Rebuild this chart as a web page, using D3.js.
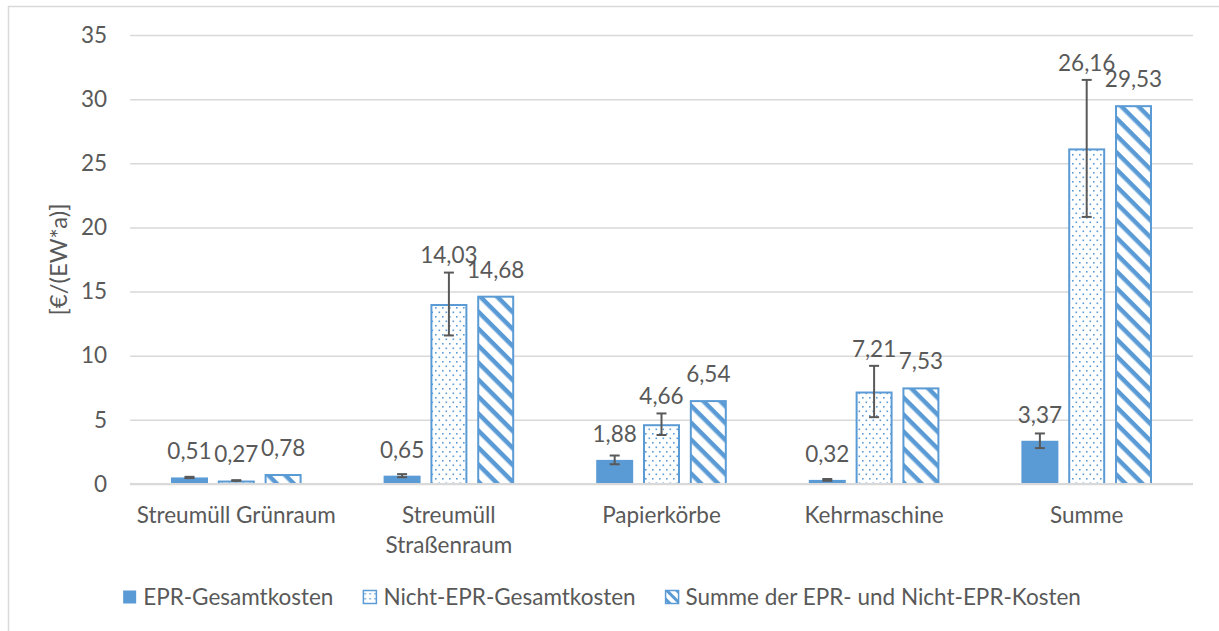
<!DOCTYPE html>
<html>
<head>
<meta charset="utf-8">
<script src="https://cdn.jsdelivr.net/npm/d3@7"></script>
<style>
  html, body { margin: 0; padding: 0; background: #fff; }
  svg { display: block; }
  text { font-family: Lato, "Open Sans", sans-serif; fill: #595959; }
</style>
</head>
<body>
<svg id="chart" width="1219" height="631"></svg>
<script>
// ---- data ----
const categories = [["Streumüll Grünraum"], ["Streumüll", "Straßenraum"], ["Papierkörbe"], ["Kehrmaschine"], ["Summe"]];
const seriesNames = ["EPR-Gesamtkosten", "Nicht-EPR-Gesamtkosten", "Summe der EPR- und Nicht-EPR-Kosten"];
const eprValues = [0.51, 0.65, 1.88, 0.32, 3.37];
const eprErrors = [0.05, 0.12, 0.34, 0.07, 0.57];
const nichtEprValues = [0.27, 14.03, 4.66, 7.21, 26.16];
const nichtEprErrors = [0.03, 2.45, 0.84, 2.0, 5.34];
const summeValues = [0.78, 14.68, 6.54, 7.53, 29.53];
const yTicks = [0, 5, 10, 15, 20, 25, 30, 35];
const yTitle = "[€/(EW*a)]";

const blue = "#5B9BD5";
const grid = "#d9d9d9";
const textCol = "#595959";
const fs = 22.5;

const svg = d3.select("#chart");
const W = 1219, H = 631;
const plot = {left: 130, right: 1193, top: 35, bottom: 484};

// outer chart border
svg.append("rect").attr("x", 8.5).attr("y", 6.5).attr("width", W + 20).attr("height", H + 20)
  .attr("fill", "#fff").attr("stroke", grid).attr("stroke-width", 1.5);

// patterns
const defs = svg.append("defs");
const dots = defs.append("pattern").attr("id", "dots").attr("patternUnits", "userSpaceOnUse")
  .attr("width", 7).attr("height", 9);
dots.append("rect").attr("width", 7).attr("height", 9).attr("fill", "#fff");
dots.append("rect").attr("x", 1).attr("y", 1).attr("width", 1.6).attr("height", 1.6).attr("fill", blue);
dots.append("rect").attr("x", 4.5).attr("y", 5.5).attr("width", 1.6).attr("height", 1.6).attr("fill", blue);

const hatch = defs.append("pattern").attr("id", "hatch").attr("patternUnits", "userSpaceOnUse")
  .attr("width", 12).attr("height", 12).attr("patternTransform", "rotate(45)");
hatch.append("rect").attr("width", 12).attr("height", 12).attr("fill", "#fff");
hatch.append("rect").attr("x", 0).attr("y", 0).attr("width", 12).attr("height", 4.5).attr("fill", blue);

const dotsL = defs.append("pattern").attr("id", "dotsL").attr("patternUnits", "userSpaceOnUse")
  .attr("width", 5).attr("height", 5);
dotsL.append("rect").attr("width", 5).attr("height", 5).attr("fill", "#fff");
dotsL.append("rect").attr("x", 1).attr("y", 1).attr("width", 1.5).attr("height", 1.5).attr("fill", blue);

const hatchL = defs.append("pattern").attr("id", "hatchL").attr("patternUnits", "userSpaceOnUse")
  .attr("width", 7).attr("height", 7).attr("patternTransform", "rotate(45)");
hatchL.append("rect").attr("width", 7).attr("height", 7).attr("fill", "#fff");
hatchL.append("rect").attr("width", 7).attr("height", 3).attr("fill", blue);

const fills = ["url(#dots)", "url(#hatch)"];

// scales
const x0 = d3.scaleBand().domain(d3.range(categories.length)).range([plot.left, plot.right]).padding(0);
const x1 = d3.scaleBand().domain(d3.range(3)).range([41, x0.bandwidth() - 41]).paddingInner(0.21).paddingOuter(0);
const y = d3.scaleLinear().domain([0, 35]).range([plot.bottom, plot.top]);

// gridlines + y tick labels
const yAxis = svg.append("g").attr("transform", `translate(${plot.left},0)`)
  .call(d3.axisLeft(y).tickValues(yTicks).tickSize(-(plot.right - plot.left)).tickPadding(23).tickFormat(d3.format("d")));
yAxis.select(".domain").remove();
yAxis.selectAll(".tick line").attr("stroke", grid).attr("stroke-width", 1.5);
yAxis.selectAll(".tick text").attr("font-size", fs).attr("fill", textCol)
  .attr("font-family", "Lato, sans-serif");

// y title
svg.append("text").attr("transform", `translate(59,${(plot.top + plot.bottom) / 2}) rotate(-90)`)
  .attr("text-anchor", "middle").attr("dy", "0.35em").attr("font-size", 24).text(yTitle);

const series = [
  {vals: eprValues, errs: eprErrors},
  {vals: nichtEprValues, errs: nichtEprErrors},
  {vals: summeValues, errs: null}
];

const fmt = v => d3.format(".2f")(v).replace(".", ",");

series.forEach((s, si) => {
  const g = svg.append("g");
  s.vals.forEach((v, ci) => {
    const bx = x0(ci) + x1(si);
    const bw = x1.bandwidth();
    if (si === 0) {
      g.append("rect").attr("x", bx).attr("y", y(v)).attr("width", bw).attr("height", y(0) - y(v))
        .attr("fill", blue);
    } else {
      g.append("rect").attr("x", bx + 1).attr("y", y(v) + 1).attr("width", bw - 2).attr("height", y(0) - y(v) - 1)
        .attr("fill", fills[si - 1]).attr("stroke", blue).attr("stroke-width", 2);
    }
  });
});

// baseline axis
svg.append("line").attr("x1", plot.left).attr("x2", plot.right).attr("y1", y(0)).attr("y2", y(0))
  .attr("stroke", grid).attr("stroke-width", 2);

// error bars + labels
series.forEach((s, si) => {
  s.vals.forEach((v, ci) => {
    const cx = x0(ci) + x1(si) + x1.bandwidth() / 2;
    let ly = y(v) - 26;
    if (s.errs) {
      const e = s.errs[ci];
      const eg = svg.append("g").attr("stroke", textCol).attr("stroke-width", 2);
      eg.append("line").attr("x1", cx).attr("x2", cx).attr("y1", y(v + e)).attr("y2", y(v - e));
      eg.append("line").attr("x1", cx - 5).attr("x2", cx + 5).attr("y1", y(v + e)).attr("y2", y(v + e));
      eg.append("line").attr("x1", cx - 5).attr("x2", cx + 5).attr("y1", y(v - e)).attr("y2", y(v - e));
      ly = Math.min(ly, y(v + e) - 17);
    }
    svg.append("text").attr("x", cx).attr("y", ly).attr("dy", "0.35em").attr("text-anchor", "middle")
      .attr("font-size", fs).text(fmt(v));
  });
});

// category labels
categories.forEach((lines, ci) => {
  const t = svg.append("text").attr("text-anchor", "middle").attr("font-size", fs);
  lines.forEach((ln, li) => {
    t.append("tspan").attr("x", x0(ci) + x0.bandwidth() / 2).attr("y", 515 + li * 30).attr("dy", "0.35em").text(ln);
  });
});

// legend
const legendFills = [blue, "url(#dotsL)", "url(#hatchL)"];
const lg = svg.append("g");
const items = [];
seriesNames.forEach((n, i) => {
  const it = lg.append("g");
  it.append("rect").attr("x", 0).attr("y", -6.5).attr("width", 13).attr("height", 13)
    .attr("fill", legendFills[i]).attr("stroke", i === 0 ? "none" : blue).attr("stroke-width", 1.5);
  const tx = it.append("text").attr("x", 20).attr("dy", "0.35em").attr("font-size", fs).text(n);
  const w = 20 + tx.node().getComputedTextLength();
  items.push({g: it, w});
});
const gap = 30;
const total = d3.sum(items, d => d.w) + gap * (items.length - 1);
let start = 602 - total / 2;
items.forEach(it => {
  it.g.attr("transform", `translate(${start},597)`);
  start += it.w + gap;
});
</script>
</body>
</html>
